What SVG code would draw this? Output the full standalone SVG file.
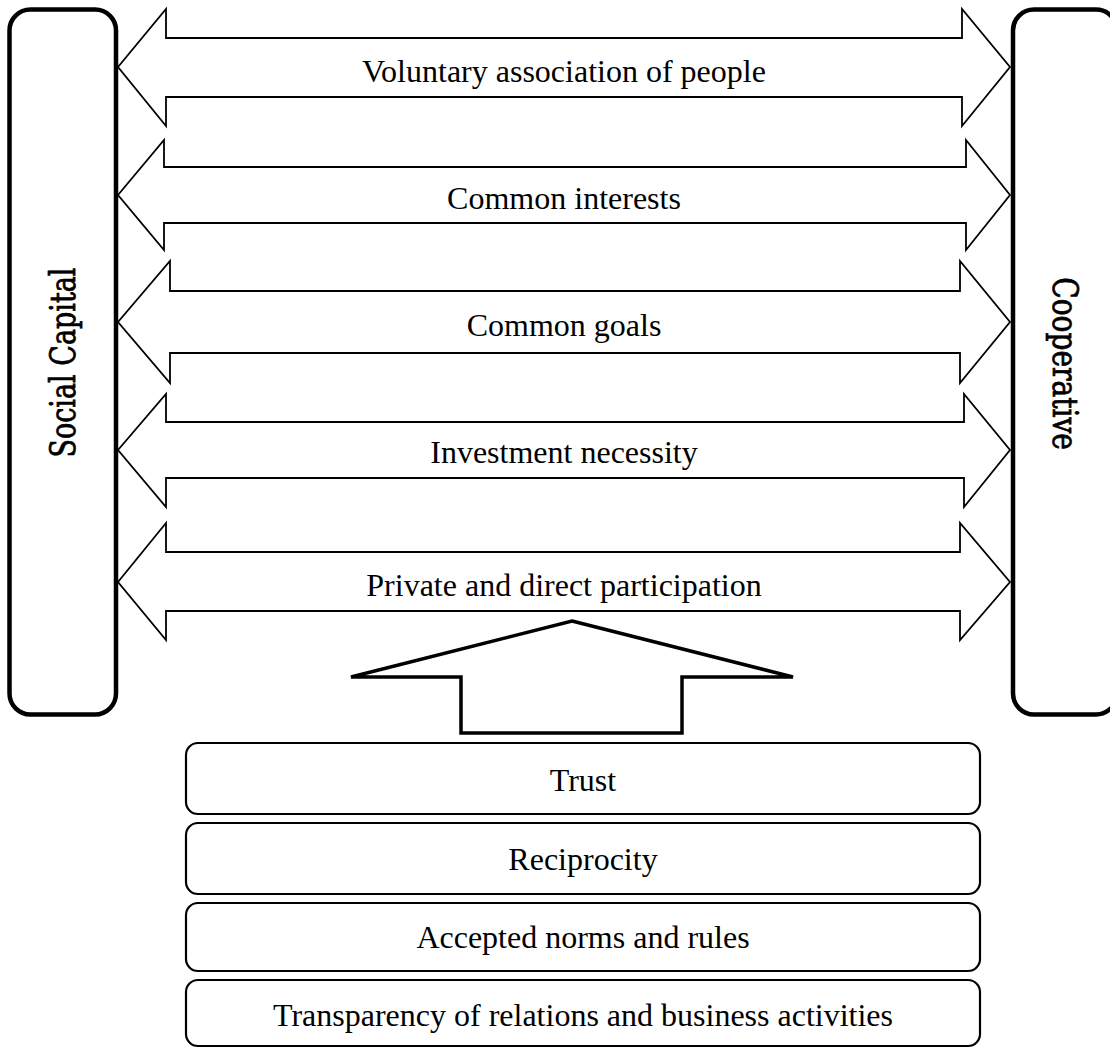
<svg xmlns="http://www.w3.org/2000/svg" width="1110" height="1049" viewBox="0 0 1110 1049">
<style>
.side{fill:#fff;stroke:#000;stroke-width:4.5}
.arr{fill:#fff;stroke:#000;stroke-width:1.8;stroke-linejoin:miter}
.up{fill:#fff;stroke:#000;stroke-width:3.5;stroke-linejoin:miter}
.box{fill:#fff;stroke:#000;stroke-width:2.2}
.lbl{font-family:"Liberation Serif","Times New Roman",serif;font-size:32px;fill:#000;text-anchor:middle}
.vt{font-family:"DejaVu Serif","Liberation Serif",serif;font-size:27px;fill:#000;stroke:#000;stroke-width:0.6;text-anchor:middle}
</style>
<rect width="1110" height="1049" fill="#fff"/>
<g id="connectors">
<polygon class="arr" points="118,67 166,9 166,38 962,38 962,9 1010,67 962,126 962,97 166,97 166,126"/>
<polygon class="arr" points="118,195 164,140 164,167 966,167 966,140 1010,195 966,250 966,223 164,223 164,250"/>
<polygon class="arr" points="118,322 170,261 170,291 960,291 960,261 1010,322 960,383 960,353 170,353 170,383"/>
<polygon class="arr" points="118,450 166,394 166,422 964,422 964,394 1010,450 964,507 964,478 166,478 166,507"/>
<polygon class="arr" points="118,582 166,523 166,552 960,552 960,523 1010,582 960,640 960,611 166,611 166,640"/>
<polygon class="up" points="572,621 793,677 682,677 682,733 461,733 461,677 351,677"/>
</g>
<g id="labels">
<text class="lbl" x="564" y="82">Voluntary association of people</text>
<text class="lbl" x="564" y="209">Common interests</text>
<text class="lbl" x="564" y="336">Common goals</text>
<text class="lbl" x="564" y="463">Investment necessity</text>
<text class="lbl" x="564" y="596">Private and direct participation</text>
</g>
<g id="social-capital">
<rect class="side" x="9.5" y="9.5" width="106.5" height="705" rx="21"/>
<text class="vt" transform="translate(75,362.5) rotate(-90) scale(1,1.3)">Social Capital</text>
</g>
<g id="cooperative">
<rect class="side" x="1013" y="9.5" width="104" height="705" rx="21"/>
<text class="vt" transform="translate(1053,363.5) rotate(90) scale(1.04,1.3)">Cooperative</text>
</g>
<g id="trust">
<rect class="box" x="186" y="743" width="794" height="71" rx="12"/>
<text class="lbl" x="583" y="791">Trust</text>
</g>
<g id="reciprocity">
<rect class="box" x="186" y="823" width="794" height="71" rx="12"/>
<text class="lbl" x="583" y="870">Reciprocity</text>
</g>
<g id="norms">
<rect class="box" x="186" y="903" width="794" height="68" rx="12"/>
<text class="lbl" x="583" y="948">Accepted norms and rules</text>
</g>
<g id="transparency">
<rect class="box" x="186" y="980" width="794" height="66" rx="12"/>
<text class="lbl" x="583" y="1026">Transparency of relations and business activities</text>
</g>
</svg>
